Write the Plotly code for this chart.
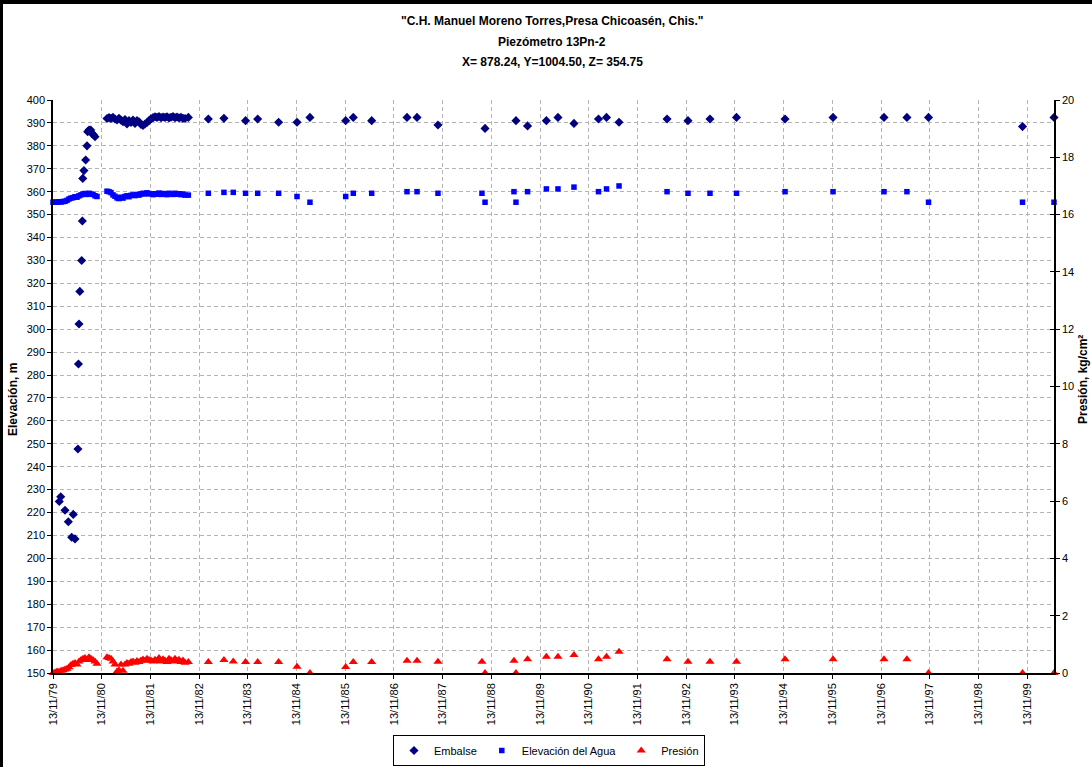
import plotly.graph_objects as go

# ---------------- data ----------------
emb_dates = [
    "1979-12-30", "1980-01-10", "1980-02-11", "1980-03-07", "1980-04-01", "1980-04-13", "1980-04-26",
    "1980-05-18", "1980-05-22", "1980-05-26", "1980-06-01", "1980-06-15", "1980-06-20", "1980-06-23",
    "1980-07-02", "1980-07-15", "1980-07-25", "1980-07-30", "1980-08-09", "1980-08-22", "1980-08-29",
    "1980-09-10", "1980-09-23",
    "1980-12-22", "1981-01-06", "1981-01-21", "1981-02-05", "1981-02-20", "1981-03-07", "1981-03-22",
    "1981-04-06", "1981-04-21", "1981-05-06", "1981-05-21", "1981-06-05", "1981-06-20", "1981-07-05",
    "1981-07-20", "1981-08-04", "1981-08-19", "1981-09-03", "1981-09-18", "1981-10-03", "1981-10-18",
    "1981-11-02", "1981-11-17", "1981-12-02", "1981-12-17", "1982-01-01", "1982-01-16", "1982-01-31",
    "1982-02-15", "1982-03-02", "1982-03-17", "1982-04-01", "1982-04-16", "1982-05-01", "1982-05-16",
    "1982-05-31", "1982-06-15", "1982-06-30", "1982-07-15", "1982-07-30", "1982-08-24",
    "1983-01-21", "1983-05-18", "1983-10-27", "1984-01-26", "1984-07-01", "1984-11-16", "1985-02-21",
    "1985-11-16", "1986-01-12", "1986-05-30", "1987-02-19", "1987-05-05", "1987-10-09", "1988-09-26",
    "1989-05-16", "1989-08-11", "1989-12-30", "1990-03-27", "1990-07-25", "1991-01-25", "1991-03-26",
    "1991-06-28", "1992-06-22", "1992-11-26", "1993-05-10", "1993-11-25", "1994-11-24", "1995-11-19",
    "1996-12-05", "1997-05-26", "1997-11-04", "1999-10-10", "2000-06-02",
]
emb_vals = [
    224.8, 226.9, 221.0, 216.0, 209.2, 219.2, 208.5,
    247.7, 284.8, 302.3, 316.5, 330.0, 347.2, 365.8,
    369.2, 373.8, 380.0, 386.2, 386.9, 386.9, 385.5,
    385.0, 384.0,
    391.9, 392.3, 392.0, 392.4, 391.7, 391.3, 392.0,
    391.2, 390.5, 391.5, 389.5, 391.0, 390.2, 391.3,
    389.8, 391.0, 390.5, 389.3, 388.9, 389.5, 390.2,
    391.0, 391.8, 392.3, 392.7, 392.4, 392.8, 392.3,
    392.6, 392.4, 392.7, 392.2, 392.5, 392.8, 392.3,
    392.6, 392.2, 392.5, 392.0, 391.9, 392.4,
    391.7, 392.0, 391.0, 391.7, 390.3, 390.3, 392.4,
    391.0, 392.4, 391.0, 392.4, 392.4, 389.1, 387.6,
    391.0, 388.7, 391.0, 392.4, 389.8, 391.7, 392.4,
    390.3, 391.7, 391.0, 391.7, 392.4, 391.7, 392.4,
    392.4, 392.4, 392.4, 388.4, 392.4,
]

agua_dates = [
    "1979-11-13", "1979-11-28", "1979-12-13", "1979-12-28", "1980-01-12", "1980-01-27", "1980-02-11",
    "1980-02-26", "1980-03-12", "1980-03-27", "1980-04-11", "1980-04-26", "1980-05-11", "1980-05-26",
    "1980-06-10", "1980-06-25", "1980-07-10", "1980-07-25", "1980-08-09", "1980-08-24", "1980-09-08",
    "1980-09-23", "1980-10-08",
    "1980-12-22", "1981-01-06", "1981-01-21", "1981-02-05", "1981-02-20", "1981-03-07", "1981-03-22",
    "1981-04-06", "1981-04-21", "1981-05-06", "1981-05-21", "1981-06-05", "1981-06-20", "1981-07-05",
    "1981-07-20", "1981-08-04", "1981-08-19", "1981-09-03", "1981-09-18", "1981-10-03", "1981-10-18",
    "1981-11-02", "1981-11-17", "1981-12-02", "1981-12-17", "1982-01-01", "1982-01-16", "1982-01-31",
    "1982-02-15", "1982-03-02", "1982-03-17", "1982-04-01", "1982-04-16", "1982-05-01", "1982-05-16",
    "1982-05-31", "1982-06-15", "1982-06-30", "1982-07-15", "1982-07-30", "1982-08-24",
    "1983-01-21", "1983-05-18", "1983-07-27", "1983-10-27", "1984-01-26", "1984-07-01", "1984-11-16",
    "1985-02-21", "1985-11-16", "1986-01-12", "1986-05-30", "1987-02-19", "1987-05-05", "1987-10-09",
    "1988-09-03", "1988-09-26", "1989-05-01", "1989-05-16", "1989-08-11", "1989-12-30", "1990-03-27",
    "1990-07-25", "1991-01-25", "1991-03-26", "1991-06-28", "1992-06-22", "1992-11-26", "1993-05-10",
    "1993-11-25", "1994-11-24", "1995-11-19", "1996-12-05", "1997-05-26", "1997-11-04", "1999-10-10",
    "2000-06-02",
]
agua_vals = [
    355.4, 355.5, 355.4, 355.6, 355.5, 355.7, 355.8,
    356.2, 356.8, 357.2, 357.4, 357.8, 357.6, 358.2,
    358.6, 359.0, 359.2, 358.8, 359.3, 359.0, 358.8,
    358.2, 357.9,
    360.2, 360.0, 359.6, 358.6, 358.0, 357.3, 357.0,
    357.6, 357.2, 357.9, 358.2, 357.8, 358.4, 358.6,
    358.3, 358.8, 358.5, 359.0, 359.3, 359.0, 359.5,
    359.2, 359.0, 358.7, 359.1, 358.9, 359.4, 358.8,
    359.2, 359.0, 358.7, 359.3, 359.0, 358.8, 359.3,
    358.9, 359.1, 358.7, 359.0, 358.5, 358.5,
    359.3, 359.7, 359.7, 359.3, 359.3, 359.3, 357.9,
    355.4, 357.9, 359.3, 359.3, 360.0, 360.0, 359.3,
    359.3, 355.4, 360.0, 355.4, 360.0, 361.2, 361.2,
    362.0, 360.0, 361.2, 362.5, 360.0, 359.3, 359.3,
    359.3, 360.0, 360.0, 360.0, 360.0, 355.4, 355.4,
    355.4,
]

pres_dates = agua_dates
pres_vals = [
    0.00, 0.02, 0.05, 0.04, 0.08, 0.10, 0.12,
    0.15, 0.20, 0.28, 0.32, 0.35, 0.30, 0.40,
    0.45, 0.50, 0.52, 0.45, 0.55, 0.50, 0.45,
    0.40, 0.32,
    0.55, 0.52, 0.50, 0.40, 0.30, 0.05, 0.10,
    0.30, 0.08, 0.30, 0.35, 0.32, 0.38, 0.40,
    0.36, 0.42, 0.38, 0.44, 0.47, 0.43, 0.50,
    0.45, 0.44, 0.40, 0.46, 0.42, 0.52, 0.40,
    0.48, 0.44, 0.38, 0.50, 0.45, 0.40, 0.50,
    0.42, 0.46, 0.38, 0.44, 0.36, 0.38,
    0.38, 0.45, 0.40, 0.38, 0.38, 0.38, 0.22,
    0.00, 0.21, 0.38, 0.38, 0.43, 0.43, 0.39,
    0.39, 0.00, 0.43, 0.00, 0.48, 0.57, 0.57,
    0.63, 0.48, 0.57, 0.74, 0.48, 0.39, 0.39,
    0.39, 0.48, 0.48, 0.48, 0.48, 0.00, 0.00,
    0.00,
]

tick_dates = ["%d-11-13" % y for y in range(1979, 2000)]
tick_text = ["13/11/%02d" % (y % 100) for y in range(1979, 2000)]

title_lines = ["\"C.H. Manuel Moreno Torres,Presa Chicoasén, Chis.\"",
               "Piezómetro 13Pn-2",
               "X= 878.24, Y=1004.50, Z= 354.75"]

FONT = "Liberation Sans, Arial, sans-serif"

W, H = 1092, 767
PL, PR, PT, PB = 53, 1054, 100, 673   # plot area in window pixels
PW, PH = PR - PL, PB - PT


def px(xw):
    return (xw - PL) / PW


def py(yw):
    return (PB - yw) / PH


fig = go.Figure()
fig.add_trace(go.Scatter(x=emb_dates, y=emb_vals, mode="markers", name="Embalse",
                         marker=dict(symbol="diamond", size=7, color="#000080"),
                         yaxis="y", cliponaxis=False))
fig.add_trace(go.Scatter(x=agua_dates, y=agua_vals, mode="markers", name="Elevación del Agua",
                         marker=dict(symbol="square", size=5.5, color="#0000FF"),
                         yaxis="y", cliponaxis=False))
fig.add_trace(go.Scatter(x=pres_dates, y=pres_vals, mode="markers", name="Presión",
                         marker=dict(symbol="triangle-up", size=8, color="#FF0000"),
                         yaxis="y2", cliponaxis=False))
# helper axis for the crossing ticks on the right axis
fig.add_trace(go.Scatter(x=[tick_dates[0]], y=[0], mode="markers", marker=dict(opacity=0),
                         showlegend=False, hoverinfo="skip", yaxis="y3"))

grid = dict(showgrid=True, gridcolor="#B4B4B4", griddash="4px,3px", gridwidth=1)

fig.update_layout(
    width=W, height=H, autosize=False,
    paper_bgcolor="white", plot_bgcolor="white",
    margin=dict(l=PL, r=W - PR, t=PT, b=H - PB, autoexpand=False),
    font=dict(family=FONT, size=11, color="black"),
    showlegend=True,
    legend=dict(orientation="h", x=px(549), xanchor="center", y=py(735), yanchor="top",
                bordercolor="black", borderwidth=1, bgcolor="white",
                font=dict(family=FONT, size=11, color="black"),
                itemwidth=30, tracegroupgap=0),
    xaxis=dict(type="date", range=["1979-11-13", "2000-06-02"],
               tickvals=tick_dates, ticktext=tick_text, tickangle=-90,
               ticks="outside", ticklen=4, tickcolor="black", automargin=False,
               showline=True, linecolor="black", linewidth=1.5, zeroline=False,
               tickfont=dict(family=FONT, size=11, color="black"), **grid),
    yaxis=dict(range=[150, 400], dtick=10, tick0=150, automargin=False,
               ticks="outside", ticklen=4, tickcolor="black",
               showline=True, linecolor="black", linewidth=1.5, zeroline=False,
               tickfont=dict(family=FONT, size=11, color="black"), **grid),
    yaxis2=dict(range=[0, 20], dtick=2, overlaying="y", side="right", automargin=False,
                ticks="outside", ticklen=4, tickcolor="black",
                showline=True, linecolor="black", linewidth=1.5, zeroline=False,
                showgrid=False, tickfont=dict(family=FONT, size=11, color="black")),
    yaxis3=dict(range=[0, 20], dtick=2, overlaying="y", side="right", automargin=False,
                ticks="inside", ticklen=4, tickcolor="black", showticklabels=False,
                showline=False, zeroline=False, showgrid=False),
)

# titles
for txt, ypix in zip(title_lines, [21, 42, 62]):
    fig.add_annotation(text="<b>%s</b>" % txt, xref="paper", yref="paper",
                       x=px(552), y=py(ypix), xanchor="center", yanchor="middle",
                       showarrow=False, font=dict(family=FONT, size=12, color="black"))

fig.add_annotation(text="<b>Elevación, m</b>", xref="paper", yref="paper",
                   x=px(13), y=py(400), textangle=-90, xanchor="center", yanchor="middle",
                   showarrow=False, font=dict(family=FONT, size=12, color="black"))
fig.add_annotation(text="<b>Presión, kg/cm²</b>", xref="paper", yref="paper",
                   x=px(1083), y=py(380), textangle=-90, xanchor="center", yanchor="middle",
                   showarrow=False, font=dict(family=FONT, size=12, color="black"))

# chart-area frame (top and left edges visible in reference)
fig.add_shape(type="line", xref="paper", yref="paper", x0=px(0), x1=px(1092), y0=py(2), y1=py(2),
              line=dict(color="black", width=4))
fig.add_shape(type="line", xref="paper", yref="paper", x0=px(1.5), x1=px(1.5), y0=py(767), y1=py(0),
              line=dict(color="black", width=3))

fig.write_html("out.html", config={"displayModeBar": False},
               post_script="document.body.style.margin='0';")
